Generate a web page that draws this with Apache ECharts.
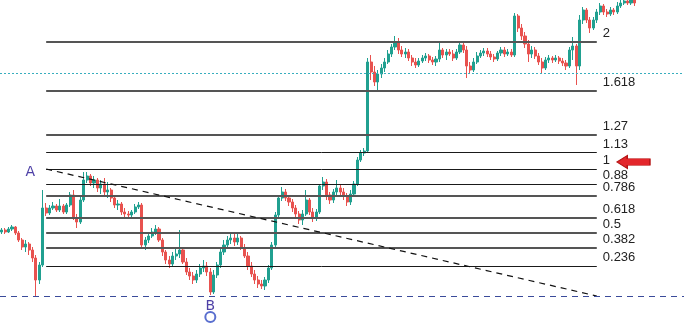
<!DOCTYPE html>
<html>
<head>
<meta charset="utf-8">
<title>Fibo</title>
<script src="https://cdn.jsdelivr.net/npm/echarts@6.0.0/dist/echarts.min.js"></script>
<style>
  html, body { margin: 0; padding: 0; background: #fff; }
  #chart { width: 684px; height: 330px; }
</style>
</head>
<body>
<div id="chart"></div>
<script>
// price candles, one entry per bar
const opens = [
  1064, 1066, 1064, 1067, 1069, 1063, 1056, 1049, 1052, 1046, 1038, 1016, 1031, 1088, 1083, 1088, 1090, 1086, 1090, 1084,
  1091, 1101, 1078, 1074, 1096, 1116, 1120, 1113, 1116, 1108, 1112, 1104, 1106, 1098, 1091, 1092, 1084, 1082, 1081, 1084,
  1089, 1091, 1051, 1056, 1060, 1064, 1067, 1056, 1044, 1036, 1032, 1040, 1042, 1046, 1034, 1024, 1020, 1016, 1022, 1028,
  1030, 1024, 1004, 1021, 1031, 1044, 1051, 1056, 1058, 1054, 1058, 1048, 1040, 1030, 1022, 1016, 1012, 1010, 1016, 1028,
  1051, 1081, 1098, 1104, 1098, 1094, 1088, 1082, 1076, 1082, 1096, 1084, 1078, 1084, 1110, 1114, 1101, 1096, 1104, 1108,
  1104, 1100, 1094, 1102, 1112, 1136, 1143, 1145, 1234, 1224, 1214, 1222, 1228, 1234, 1242, 1249, 1254, 1246, 1242, 1244,
  1238, 1234, 1231, 1235, 1238, 1240, 1236, 1234, 1237, 1246, 1241, 1244, 1242, 1238, 1244, 1251, 1246, 1230, 1226, 1234,
  1240, 1243, 1245, 1242, 1239, 1237, 1243, 1246, 1242, 1244, 1241, 1280, 1268, 1260, 1252, 1242, 1246, 1240, 1234, 1228,
  1236, 1238, 1236, 1238, 1235, 1233, 1230, 1246, 1250, 1230, 1276, 1286, 1276, 1268, 1276, 1284, 1290, 1284, 1282, 1286,
  1284, 1290, 1293, 1295, 1293, 1296
];
const closes = [
  1066, 1064, 1067, 1069, 1063, 1056, 1049, 1052, 1046, 1038, 1016, 1031, 1088, 1083, 1088, 1090, 1086, 1090, 1084, 1091,
  1101, 1078, 1074, 1096, 1116, 1120, 1113, 1116, 1108, 1112, 1104, 1106, 1098, 1091, 1092, 1084, 1082, 1081, 1084, 1089,
  1091, 1051, 1056, 1060, 1064, 1067, 1056, 1044, 1036, 1032, 1040, 1042, 1046, 1034, 1024, 1020, 1016, 1022, 1028, 1030,
  1024, 1004, 1021, 1031, 1044, 1051, 1056, 1058, 1054, 1058, 1048, 1040, 1030, 1022, 1016, 1012, 1010, 1016, 1028, 1051,
  1081, 1098, 1104, 1098, 1094, 1088, 1082, 1076, 1082, 1096, 1084, 1078, 1084, 1110, 1114, 1101, 1096, 1104, 1108, 1104,
  1100, 1094, 1102, 1112, 1136, 1143, 1145, 1234, 1224, 1214, 1222, 1228, 1234, 1242, 1249, 1254, 1246, 1242, 1244, 1238,
  1234, 1231, 1235, 1238, 1240, 1236, 1234, 1237, 1246, 1241, 1244, 1242, 1238, 1244, 1251, 1246, 1230, 1226, 1234, 1240,
  1243, 1245, 1242, 1239, 1237, 1243, 1246, 1242, 1244, 1241, 1280, 1268, 1260, 1252, 1242, 1246, 1240, 1234, 1228, 1236,
  1238, 1236, 1238, 1235, 1233, 1230, 1246, 1250, 1230, 1276, 1286, 1276, 1268, 1276, 1284, 1290, 1284, 1282, 1286, 1284,
  1290, 1293, 1295, 1293, 1296, 1293
];
const lows = [
  1062, 1062, 1063, 1065, 1061, 1054, 1046, 1044, 1041, 1034, 1000, 1012, 1029, 1080, 1081, 1086, 1084, 1084, 1082, 1082,
  1089, 1076, 1068, 1072, 1094, 1113, 1110, 1108, 1104, 1102, 1100, 1098, 1094, 1088, 1086, 1081, 1078, 1078, 1079, 1082,
  1087, 1048, 1046, 1053, 1058, 1061, 1054, 1040, 1032, 1028, 1030, 1036, 1038, 1032, 1021, 1016, 1012, 1013, 1019, 1024,
  1020, 1001, 1002, 1018, 1028, 1041, 1048, 1052, 1050, 1051, 1046, 1038, 1026, 1019, 1012, 1008, 1007, 1006, 1013, 1026,
  1048, 1078, 1095, 1095, 1090, 1084, 1079, 1072, 1071, 1080, 1081, 1074, 1075, 1082, 1106, 1096, 1092, 1093, 1101, 1101,
  1096, 1090, 1091, 1100, 1110, 1134, 1140, 1143, 1216, 1210, 1206, 1218, 1224, 1232, 1239, 1246, 1242, 1239, 1238, 1235,
  1230, 1228, 1229, 1233, 1235, 1233, 1231, 1230, 1234, 1238, 1236, 1240, 1235, 1236, 1242, 1243, 1218, 1222, 1224, 1232,
  1238, 1240, 1239, 1236, 1234, 1235, 1240, 1239, 1240, 1239, 1239, 1264, 1256, 1248, 1234, 1238, 1237, 1231, 1223, 1226,
  1233, 1233, 1234, 1232, 1230, 1226, 1228, 1236, 1211, 1226, 1272, 1273, 1263, 1266, 1273, 1281, 1281, 1279, 1280, 1281,
  1282, 1288, 1291, 1291, 1291, 1290
];
const highs = [
  1068, 1068, 1069, 1071, 1070, 1065, 1058, 1056, 1054, 1049, 1041, 1034, 1106, 1093, 1091, 1094, 1092, 1097, 1092, 1093,
  1104, 1106, 1082, 1100, 1124, 1124, 1122, 1120, 1118, 1116, 1118, 1114, 1108, 1100, 1096, 1094, 1088, 1085, 1086, 1092,
  1094, 1093, 1059, 1063, 1068, 1071, 1069, 1058, 1046, 1040, 1044, 1048, 1066, 1048, 1038, 1028, 1024, 1026, 1032, 1036,
  1034, 1028, 1026, 1034, 1048, 1056, 1060, 1062, 1062, 1062, 1060, 1052, 1044, 1034, 1026, 1020, 1016, 1019, 1031, 1054,
  1084, 1101, 1109, 1107, 1101, 1097, 1091, 1085, 1086, 1106, 1098, 1088, 1087, 1112, 1119, 1117, 1104, 1107, 1116, 1111,
  1108, 1103, 1106, 1115, 1139, 1146, 1148, 1238, 1241, 1230, 1226, 1232, 1238, 1246, 1252, 1260, 1258, 1250, 1248, 1247,
  1241, 1238, 1238, 1241, 1243, 1242, 1239, 1240, 1255, 1248, 1247, 1247, 1246, 1247, 1254, 1254, 1250, 1234, 1238, 1244,
  1246, 1248, 1248, 1245, 1242, 1245, 1249, 1249, 1247, 1247, 1283, 1282, 1272, 1264, 1256, 1250, 1249, 1243, 1238, 1239,
  1241, 1240, 1241, 1240, 1238, 1236, 1249, 1259, 1252, 1281, 1289, 1288, 1279, 1279, 1287, 1293, 1292, 1287, 1289, 1288,
  1294, 1296, 1298, 1298, 1299, 1298
];

// bar slots on the time axis (the last ones stay empty, space for the labels)
const slotCount = 200;
const categories = Array.from({ length: slotCount }, (_, i) => 'bar ' + (i + 1));

// swing points of the fibo grid
const pointA = 1127;
const pointB = 1000;
const aIndex = 13;
const bIndex = 61;
const fiboEndIndex = 174;
const fiboRatios = [0.236, 0.382, 0.5, 0.618, 0.786, 0.88, 1, 1.13, 1.27, 1.618, 2];
const fiboLabels = ['0.236', '0.382', '0.5', '0.618', '0.786', '0.88', '1', '1.13', '1.27', '1.618', '2'];
const bidPrice = 1223;

// line look per level (darker thin ones vs. greyer thick ones, as in the screenshot)
const thinLevels = ['1.13', '1', '0.88', '0.236'];

const candles = opens.map((o, i) => [o, closes[i], lows[i], highs[i]]);

const fiboLines = fiboRatios.map((r, i) => {
  const price = pointB + r * (pointA - pointB);
  const thin = thinLevels.indexOf(fiboLabels[i]) >= 0;
  return [
    {
      coord: [aIndex, price],
      lineStyle: { color: thin ? '#1a1a1a' : '#555', width: thin ? 1 : 2, type: 'solid' },
      label: {
        show: true,
        position: 'end',
        formatter: fiboLabels[i],
        distance: 6,
        align: 'left',
        verticalAlign: 'bottom',
        padding: [0, 0, 2, 0],
        color: '#222',
        fontFamily: 'Liberation Sans',
        fontSize: 13
      }
    },
    { coord: [fiboEndIndex, price] }
  ];
});

const chart = echarts.init(document.getElementById('chart'));
chart.setOption({
  animation: false,
  backgroundColor: '#fff',
  grid: { left: 0, right: 0, top: 0, bottom: 0 },
  xAxis: {
    type: 'category',
    data: categories,
    boundaryGap: true,
    show: false
  },
  yAxis: {
    type: 'value',
    min: 966,
    max: 1296,
    show: false,
    splitLine: { show: false }
  },
  series: [
    {
      type: 'candlestick',
      data: candles,
      barWidth: 2.6,
      itemStyle: {
        color: '#20a090',
        color0: '#e8524f',
        borderColor: '#20a090',
        borderColor0: '#e8524f',
        borderWidth: 1
      },
      markLine: {
        silent: true,
        symbol: ['none', 'none'],
        label: { show: false },
        data: fiboLines.concat([
          // trend line from A down to the end of the grid
          [
            { coord: [aIndex, pointA], lineStyle: { color: '#111', width: 1.2, type: [6, 5] } },
            { coord: [fiboEndIndex, pointB] }
          ],
          // bid line
          { yAxis: bidPrice, lineStyle: { color: '#38aebe', width: 1, type: [2, 2] } },
          // B level
          { yAxis: pointB, lineStyle: { color: '#3a4a9a', width: 1, type: [6, 5] } }
        ])
      },
      markPoint: {
        silent: true,
        data: [
          {
            coord: [aIndex, pointA],
            symbol: 'circle',
            symbolSize: 0,
            label: { show: true, formatter: 'A', offset: [-16, 3], color: '#4e40a6', fontSize: 14, fontFamily: 'DejaVu Sans' }
          },
          {
            coord: [bIndex, pointB],
            symbol: 'circle',
            symbolSize: 0,
            label: { show: true, formatter: 'B', offset: [0, 10], color: '#4e40a6', fontSize: 14, fontFamily: 'DejaVu Sans' }
          },
          {
            coord: [bIndex, pointB],
            symbol: 'emptyCircle',
            symbolSize: 10,
            symbolOffset: [0, 21],
            itemStyle: { color: '#5a6fcf', borderWidth: 1.2 },
            label: { show: false }
          },
          {
            // red arrow pointing at level 1
            coord: [185, pointA],
            symbol: 'path://M0,6 L10,0 L10,3 L32,3 L32,9 L10,9 L10,12 Z',
            symbolSize: [33, 13],
            symbolOffset: [-1, -7],
            itemStyle: { color: '#e3262b', borderColor: '#b51515', borderWidth: 1 },
            label: { show: false }
          }
        ]
      }
    }
  ]
});
</script>
</body>
</html>
